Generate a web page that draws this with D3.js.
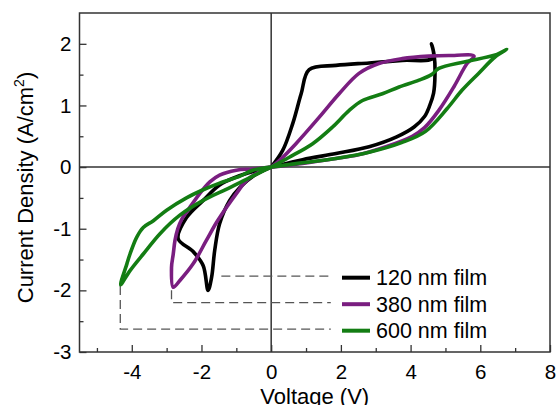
<!DOCTYPE html>
<html>
<head>
<meta charset="utf-8">
<script src="https://d3js.org/d3.v7.min.js"></script>
<style>
  body { margin: 0; background: #fff; }
  text { font-family: "Liberation Sans", Arial, sans-serif; }
</style>
</head>
<body>
<svg id="chart" width="558" height="405"></svg>
<script>
  // series names + colours
  var names = ['120 nm film', '380 nm film', '600 nm film']
  var colors = ['#000000', '#7a1e80', '#137d13']

  // J-V loops, points in sweep order [V, J]
  var film120 = [[0,0],[0.33,0.27],[0.62,0.71],[0.86,1.19],[1.09,1.58],[1.86,1.65],[2.81,1.69],[3.76,1.73],
    [4.64,1.77],[4.6,2.0],[4.68,1.8],[4.7,1.5],[4.66,1.2],[4.55,1.0],[4.4,0.82],[4.1,0.65],[3.6,0.49],
    [2.81,0.33],[1.86,0.22],[0.9,0.12],[0,0],
    [-0.5,-0.07],[-1.0,-0.16],[-1.48,-0.29],[-1.95,-0.54],[-2.43,-0.82],[-2.67,-1.16],[-2.24,-1.37],
    [-1.95,-1.6],[-1.81,-2.0],[-1.71,-1.79],[-1.62,-1.35],[-1.48,-0.92],[-1.19,-0.54],[-0.9,-0.33],
    [-0.5,-0.14],[0,0]]
  var film380 = [[0,0],[0.24,0.11],[0.71,0.38],[1.38,0.81],[1.95,1.19],[2.52,1.52],[3.09,1.68],[3.76,1.76],
    [4.52,1.8],[5.1,1.81],[5.82,1.8],[5.62,1.68],[5.24,1.3],[4.81,0.92],[4.4,0.64],[4.05,0.5],
    [3.29,0.33],[2.5,0.2],[1.86,0.14],[0.9,0.06],[0,0],
    [-0.53,-0.03],[-1.0,-0.05],[-1.48,-0.13],[-1.76,-0.24],[-2.05,-0.43],[-2.33,-0.65],[-2.57,-0.85],
    [-2.68,-1.0],[-2.76,-1.19],[-2.81,-1.41],[-2.86,-1.63],[-2.81,-1.95],[-2.62,-1.84],[-2.24,-1.57],
    [-1.86,-1.19],[-1.57,-0.9],[-1.29,-0.66],[-1.0,-0.43],[-0.71,-0.22],[-0.35,-0.08],[0,0]]
  var film600 = [[0,0],[0.52,0.16],[1.19,0.38],[1.76,0.65],[2.24,0.92],[2.62,1.08],[3.19,1.19],[3.67,1.3],
    [4.24,1.41],[4.6,1.5],[4.81,1.6],[5.57,1.71],[6.43,1.82],[6.76,1.91],[6.43,1.79],[5.95,1.52],
    [5.48,1.25],[5.05,0.95],[4.43,0.58],[3.76,0.4],[2.81,0.24],[1.86,0.14],[0.9,0.07],[0,0],
    [-0.53,-0.05],[-0.91,-0.15],[-1.48,-0.26],[-2.0,-0.38],[-2.43,-0.5],[-3.0,-0.7],[-3.38,-0.87],
    [-3.67,-0.98],[-3.86,-1.14],[-4.05,-1.41],[-4.14,-1.57],[-4.32,-1.91],[-4.05,-1.68],[-3.67,-1.41],
    [-3.19,-1.08],[-2.62,-0.78],[-1.95,-0.54],[-1.29,-0.36],[-0.71,-0.2],[-0.3,-0.08],[0,0]]
  var loops = [film120, film380, film600]

  // dashed leader lines: start point (near loop tip) and level they run at
  var guideX = [-1.43, -2.86, -4.33]
  var guideTopY = [-1.77, -2.0, -1.93]
  var guideY = [-1.77, -2.2, -2.63]
  var guideEndX = 1.71

  var xTicks = [-4, -2, 0, 2, 4, 6, 8]
  var xMinor = [-5, -3, -1, 1, 3, 5, 7]
  var yTicks = [-3, -2, -1, 0, 1, 2]
  var yMinor = [-2.5, -1.5, -0.5, 0.5, 1.5]

  var svg = d3.select('#chart')
  var pl = 79.5, pr = 550, pt = 13, pb = 352
  var x = d3.scaleLinear().domain([-5.5, 8]).range([pl, pr])
  var y = d3.scaleLinear().domain([-3, 2.5]).range([pb, pt])

  // zero lines
  svg.append('line').attr('x1', x(0)).attr('x2', x(0)).attr('y1', pt).attr('y2', pb)
      .attr('stroke', '#333').attr('stroke-width', 1.5)
  svg.append('line').attr('x1', pl).attr('x2', pr).attr('y1', y(0)).attr('y2', y(0))
      .attr('stroke', '#333').attr('stroke-width', 1.5)

  // guides
  for (var i = 0; i < 3; i++) {
    var pts = [[guideX[i], guideTopY[i]], [guideX[i], guideY[i]], [guideEndX, guideY[i]]]
    svg.append('path').attr('d', d3.line().x(function (d) {return x(d[0])}).y(function (d) {return y(d[1])})(pts))
        .attr('fill', 'none').attr('stroke', '#555').attr('stroke-width', 1.3)
        .attr('stroke-dasharray', '9,5')
  }

  // loops
  var line = d3.line().x(function (d) {return x(d[0])}).y(function (d) {return y(d[1])})
      .curve(d3.curveCatmullRom.alpha(0.5))
  svg.selectAll('path.loop').data(loops).enter().append('path').attr('class', 'loop')
      .attr('d', line).attr('fill', 'none')
      .attr('stroke', function (d, i) {return colors[i]})
      .attr('stroke-width', 3.6).attr('stroke-linejoin', 'round')

  // axes (ticks inside)
  var gx = svg.append('g').attr('transform', 'translate(0,' + pb + ')')
      .call(d3.axisBottom(x).tickValues(xTicks).tickSizeInner(-7).tickSizeOuter(0).tickPadding(12))
  var gy = svg.append('g').attr('transform', 'translate(' + pl + ',0)')
      .call(d3.axisLeft(y).tickValues(yTicks).tickSizeInner(-7).tickSizeOuter(0).tickPadding(8))
  svg.append('g').attr('transform', 'translate(0,' + pb + ')')
      .call(d3.axisBottom(x).tickValues(xMinor).tickSize(-4).tickFormat(''))
  svg.append('g').attr('transform', 'translate(' + pl + ',0)')
      .call(d3.axisLeft(y).tickValues(yMinor).tickSize(-4).tickFormat(''))
  svg.selectAll('.domain').remove()
  svg.selectAll('.tick line').attr('stroke', '#333').attr('stroke-width', 1.3)
  svg.selectAll('.tick text').attr('font-size', 20.5).attr('fill', '#000')
      .style('font-family', '"Liberation Sans", Arial, sans-serif')
  gx.selectAll('.tick text').text(function (d) {return d < 0 ? '-' + (-d) : d})
  gy.selectAll('.tick text').text(function (d) {return d < 0 ? '-' + (-d) : d})

  // frame
  svg.append('rect').attr('x', pl).attr('y', pt).attr('width', pr - pl).attr('height', pb - pt)
      .attr('fill', 'none').attr('stroke', '#333').attr('stroke-width', 1.5)

  // legend
  for (var j = 0; j < 3; j++) {
    var ly = y(guideY[j]) + 1.5
    svg.append('line').attr('x1', 342).attr('x2', 370).attr('y1', ly).attr('y2', ly)
        .attr('stroke', colors[j]).attr('stroke-width', 4)
    svg.append('text').attr('x', 376).attr('y', ly).attr('dy', '0.36em')
        .attr('font-size', 21.5).text(names[j])
  }

  // axis titles
  svg.append('text').attr('x', (pl + pr) / 2).attr('y', 404).attr('text-anchor', 'middle')
      .attr('font-size', 22).text('Voltage (V)')
  var yt = svg.append('text').attr('transform', 'translate(33,' + ((pt + pb) / 2 + 5) + ') rotate(-90)')
      .attr('text-anchor', 'middle').attr('font-size', 22)
  yt.append('tspan').text('Current Density (A/cm')
  yt.append('tspan').attr('font-size', 14).attr('dy', -9).text('2')
  yt.append('tspan').attr('dy', 9).text(')')
</script>
</body>
</html>
